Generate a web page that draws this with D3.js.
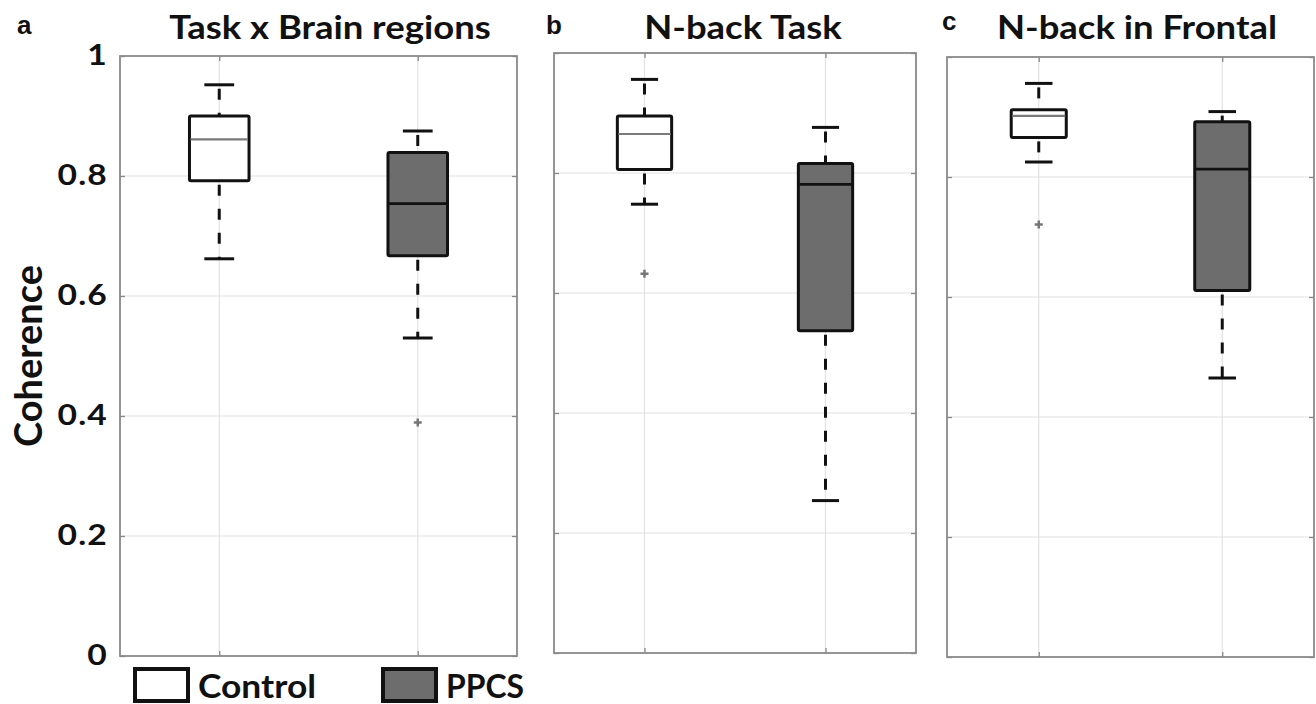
<!DOCTYPE html>
<html>
<head>
<meta charset="utf-8">
<script src="https://cdn.jsdelivr.net/npm/d3@7"></script>
<style>
  body { margin: 0; background: #fff; }
  text { font-family: Lato, "Open Sans", sans-serif; font-weight: 700; }
</style>
</head>
<body>
<div id="chart"></div>
<script>
// Chart data
var groups = ["Control", "PPCS"];
var panelTitles = ["Task x Brain regions", "N-back Task", "N-back in Frontal"];
var panelLetters = ["a", "b", "c"];
var yTicks = [0, 0.2, 0.4, 0.6, 0.8, 1];

// [lower whisker, q1, median, q3, upper whisker] per group
var statsA = [[0.662, 0.792, 0.861, 0.900, 0.952], [0.530, 0.667, 0.754, 0.839, 0.875]];
var statsB = [[0.748, 0.806, 0.865, 0.895, 0.956], [0.254, 0.537, 0.781, 0.816, 0.876]];
var statsC = [[0.825, 0.866, 0.902, 0.912, 0.956], [0.465, 0.611, 0.813, 0.892, 0.909]];
// outliers: [group index, value]
var outliersA = [[1, 0.389]];
var outliersB = [[0, 0.632]];
var outliersC = [[0, 0.721]];

var svgWidth = 1316;
var svgHeight = 704;

var svg = d3.select("#chart")
  .append("svg")
  .attr("width", svgWidth)
  .attr("height", svgHeight);

// panel frames
var panels = [
  { left: 120, right: 517, top: 56, bottom: 656, stats: statsA, outliers: outliersA, titleX: 330, letterX: 17, letterY: 34 },
  { left: 554, right: 916, top: 53, bottom: 653, stats: statsB, outliers: outliersB, titleX: 743, letterX: 546, letterY: 34 },
  { left: 947, right: 1314, top: 57, bottom: 657, stats: statsC, outliers: outliersC, titleX: 1137, letterX: 942, letterY: 30 }
];

var boxWidth = 0.3;
var fills = ["#ffffff", "#6d6d6d"];
var medianColors = ["#7a7a7a", "#111"];
var stretch = 1.14; // the lettering in the figure runs wide

panels.forEach((p, i) => {
  var x = d3.scaleLinear().domain([0.5, 2.5]).range([p.left, p.right]);
  var y = d3.scaleLinear().domain([0, 1]).range([p.bottom, p.top]);
  var g = svg.append("g");

  // grid
  g.selectAll(".hgrid")
    .data(yTicks.slice(1, -1))
    .join("line")
    .attr("x1", p.left).attr("x2", p.right)
    .attr("y1", d => y(d)).attr("y2", d => y(d))
    .attr("stroke", "#e2e2e2").attr("stroke-width", 1.2);

  g.selectAll(".vgrid")
    .data([1, 2])
    .join("line")
    .attr("x1", d => x(d)).attr("x2", d => x(d))
    .attr("y1", p.top).attr("y2", p.bottom)
    .attr("stroke", "#e2e2e2").attr("stroke-width", 1.2);

  // axes (ticks inside, both sides)
  var tickLen = 5;
  g.append("g")
    .attr("transform", `translate(${p.left},0)`)
    .call(d3.axisRight(y).tickValues(yTicks).tickSize(tickLen).tickFormat(""))
    .call(a => a.select(".domain").remove());
  g.append("g")
    .attr("transform", `translate(${p.right},0)`)
    .call(d3.axisLeft(y).tickValues(yTicks).tickSize(tickLen).tickFormat(""))
    .call(a => a.select(".domain").remove());
  g.append("g")
    .attr("transform", `translate(0,${p.bottom})`)
    .call(d3.axisTop(x).tickValues([1, 2]).tickSize(tickLen).tickFormat(""))
    .call(a => a.select(".domain").remove());
  g.append("g")
    .attr("transform", `translate(0,${p.top})`)
    .call(d3.axisBottom(x).tickValues([1, 2]).tickSize(tickLen).tickFormat(""))
    .call(a => a.select(".domain").remove());
  g.selectAll(".tick line").attr("stroke", "#888").attr("stroke-width", 1.3);

  g.append("rect")
    .attr("x", p.left).attr("y", p.top)
    .attr("width", p.right - p.left).attr("height", p.bottom - p.top)
    .attr("fill", "none").attr("stroke", "#8a8a8a").attr("stroke-width", 1.8);

  // boxes
  p.stats.forEach((s, k) => {
    var cx = x(k + 1);
    var half = (x(1 + boxWidth / 2) - x(1));
    var capHalf = half / 2;

    // whiskers
    [[s[0], s[1]], [s[3], s[4]]].forEach(w => {
      g.append("line")
        .attr("x1", cx).attr("x2", cx)
        .attr("y1", y(w[1])).attr("y2", y(w[0]))
        .attr("stroke", "#111").attr("stroke-width", 3)
        .attr("stroke-dasharray", "11,13")
        .attr("stroke-dashoffset", -4);
    });
    [s[0], s[4]].forEach(v => {
      g.append("line")
        .attr("x1", cx - capHalf).attr("x2", cx + capHalf)
        .attr("y1", y(v)).attr("y2", y(v))
        .attr("stroke", "#111").attr("stroke-width", 3);
    });

    g.append("rect")
      .attr("x", cx - half).attr("y", y(s[3]))
      .attr("width", half * 2).attr("height", y(s[1]) - y(s[3]))
      .attr("fill", fills[k])
      .attr("stroke", "#111").attr("stroke-width", 3)
      .attr("rx", 1.5);

    g.append("line")
      .attr("x1", cx - half + 1).attr("x2", cx + half - 1)
      .attr("y1", y(s[2])).attr("y2", y(s[2]))
      .attr("stroke", medianColors[k]).attr("stroke-width", k == 0 ? 2.2 : 2.8);
  });

  // outliers
  p.outliers.forEach(o => {
    var ox = x(o[0] + 1), oy = y(o[1]);
    g.append("path")
      .attr("d", `M${ox - 4},${oy}H${ox + 4}M${ox},${oy - 4}V${oy + 4}`)
      .attr("stroke", "#777").attr("stroke-width", 2.5);
  });

  // titles and letters
  svg.append("text")
    .attr("transform", `translate(${p.titleX},39) scale(${stretch},1)`)
    .attr("text-anchor", "middle")
    .attr("font-size", "32px")
    .attr("fill", "#111")
    .text(panelTitles[i]);

  svg.append("text")
    .attr("x", p.letterX).attr("y", p.letterY)
    .attr("font-size", "26px")
    .attr("fill", "#111")
    .style("font-family", "'Liberation Sans', Arial, sans-serif")
    .text(panelLetters[i]);

  // y tick labels only on first panel
  if (i == 0) {
    svg.selectAll(".ylab")
      .data(yTicks)
      .join("text")
      .attr("transform", d => `translate(${p.left - 12},${y(d) + 9}) scale(1.2,1)`)
      .attr("text-anchor", "end")
      .attr("font-size", "28px")
      .attr("letter-spacing", "1px")
      .attr("fill", "#111")
      .text(d => d3.format("")(d));

    svg.append("text")
      .attr("transform", `translate(42, ${(p.top + p.bottom) / 2}) rotate(-90)`)
      .attr("text-anchor", "middle")
      .attr("font-size", "38px")
      .attr("fill", "#111")
      .text("Coherence");
  }
});

// legend
var legend = svg.append("g");
var legendX = [135, 383];
var legendTextLen = [118, 78];
groups.forEach((name, k) => {
  legend.append("rect")
    .attr("x", legendX[k]).attr("y", 669)
    .attr("width", 53).attr("height", 32)
    .attr("fill", fills[k])
    .attr("stroke", "#111").attr("stroke-width", 4);
  legend.append("text")
    .attr("x", legendX[k] + 63).attr("y", 698)
    .attr("font-size", "32px")
    .attr("textLength", legendTextLen[k])
    .attr("lengthAdjust", "spacingAndGlyphs")
    .attr("fill", "#111")
    .text(name);
});
</script>
</body>
</html>
